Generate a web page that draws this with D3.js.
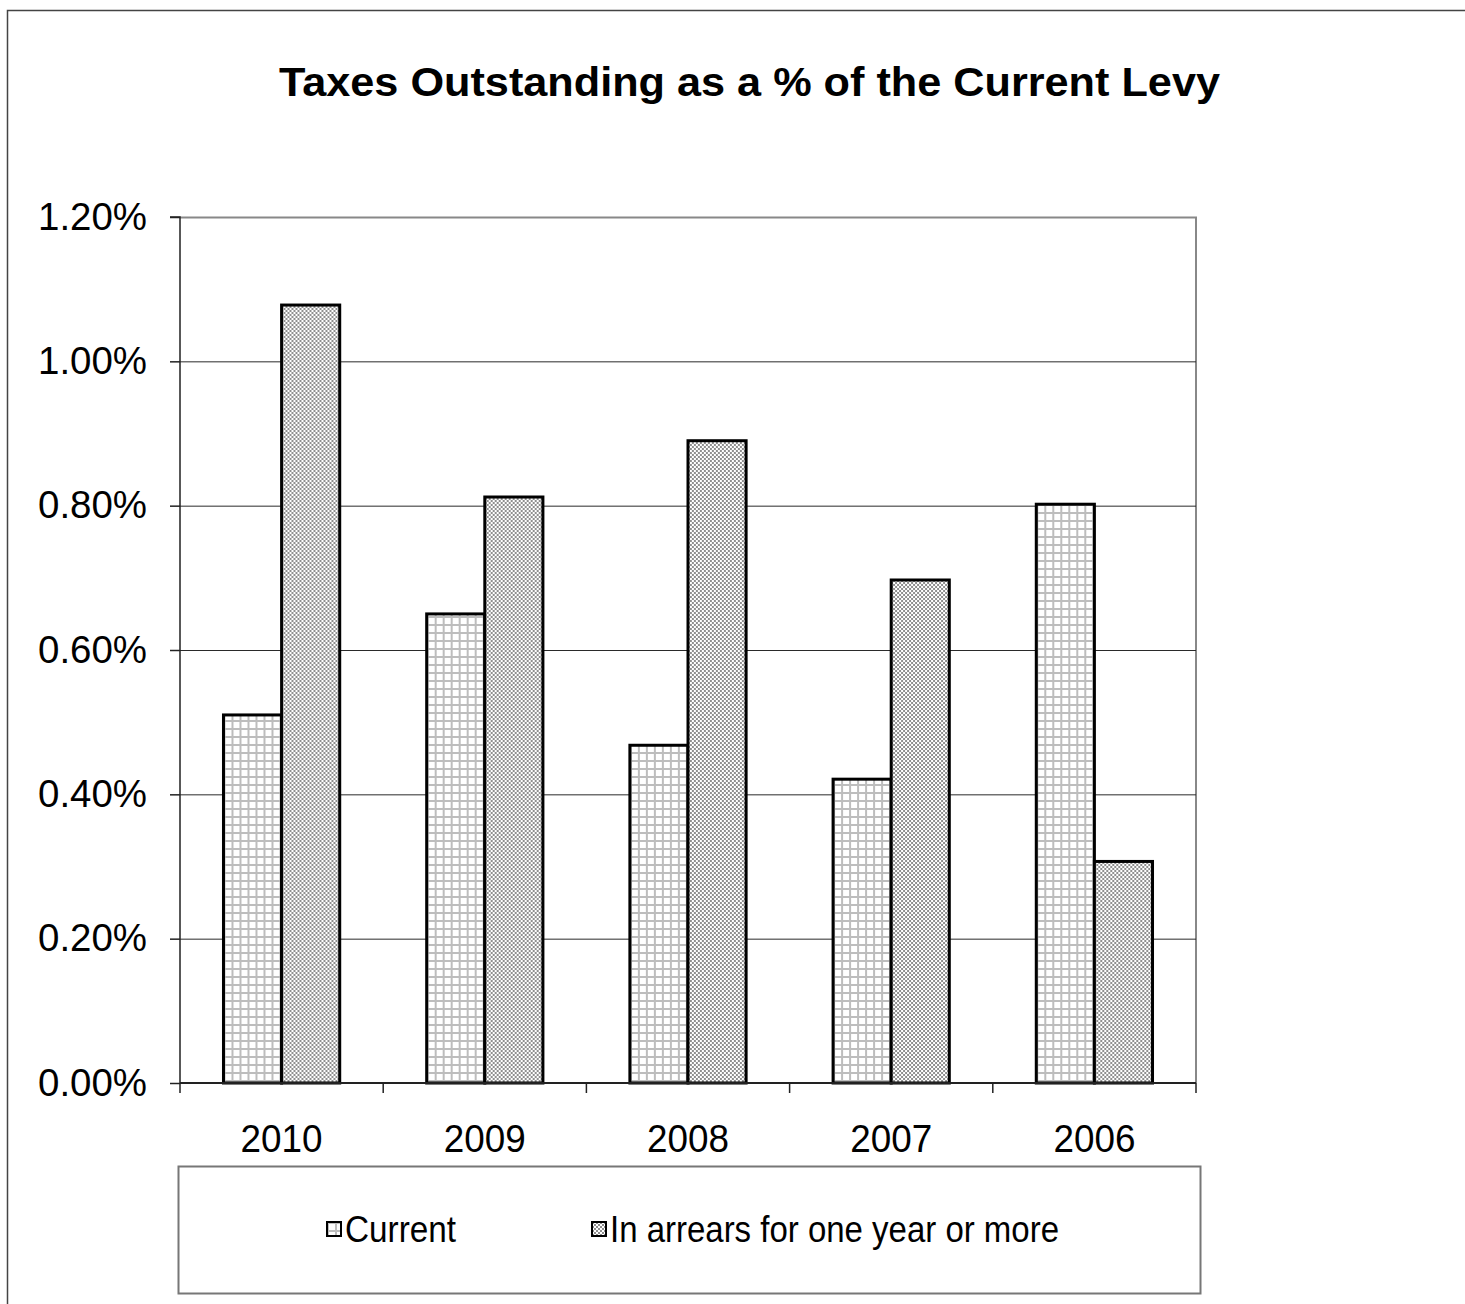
<!DOCTYPE html>
<html>
<head>
<meta charset="utf-8">
<script src="https://cdn.jsdelivr.net/npm/d3@7.9.0/dist/d3.min.js"></script>
<style>
  html, body { margin: 0; padding: 0; background: #fff; }
  svg { display: block; font-family: 'Liberation Sans', Arial, sans-serif; }
</style>
</head>
<body>
<div id="chart"></div>
<script>
const years = ['2010', '2009', '2008', '2007', '2006'];
const seriesNames = ['Current', 'In arrears for one year or more'];
const currentValues = [0.0051, 0.0065, 0.00468, 0.00421, 0.00802];
const arrearsValues = [0.01078, 0.00812, 0.0089, 0.00697, 0.00307];
const yTicks = [0, 0.002, 0.004, 0.006, 0.008, 0.010, 0.012];

const width = 1465;
const height = 1304;
const margin = { top: 217, right: 269, bottom: 221, left: 180 };

const svg = d3.select('#chart')
  .append('svg')
  .attr('width', width)
  .attr('height', height);

// fill patterns
const defs = svg.append('defs');
const grid = defs.append('pattern')
  .attr('id', 'pat-current')
  .attr('patternUnits', 'userSpaceOnUse')
  .attr('width', 8).attr('height', 8);
grid.append('rect').attr('width', 8).attr('height', 8).attr('fill', '#fff');
grid.append('rect').attr('width', 2).attr('height', 8).attr('fill', '#bdbdbd');
grid.append('rect').attr('width', 8).attr('height', 2).attr('fill', '#bdbdbd');

const checker = defs.append('pattern')
  .attr('id', 'pat-arrears')
  .attr('patternUnits', 'userSpaceOnUse')
  .attr('width', 4).attr('height', 4);
checker.append('rect').attr('width', 4).attr('height', 4).attr('fill', '#fff');
checker.append('rect').attr('width', 2).attr('height', 2).attr('fill', '#8f8f8f');
checker.append('rect').attr('x', 2).attr('y', 2).attr('width', 2).attr('height', 2).attr('fill', '#8f8f8f');

const fills = ['url(#pat-current)', 'url(#pat-arrears)'];

// outer chart border
svg.append('rect')
  .attr('x', 7.5).attr('y', 10.5)
  .attr('width', width).attr('height', height)
  .attr('fill', 'none')
  .attr('stroke', '#444')
  .attr('stroke-width', 1.5);

svg.append('text')
  .attr('x', 749.5)
  .attr('y', 96)
  .attr('text-anchor', 'middle')
  .attr('font-size', 41)
  .attr('font-weight', 700)
  .attr('textLength', 941)
  .attr('lengthAdjust', 'spacingAndGlyphs')
  .text('Taxes Outstanding as a % of the Current Levy');

const x0 = d3.scaleBand()
  .domain(years)
  .range([margin.left, width - margin.right])
  .paddingInner(0.428)
  .paddingOuter(0.214);

const x1 = d3.scaleBand()
  .domain(seriesNames)
  .range([0, x0.bandwidth()]);

const y = d3.scaleLinear()
  .domain([0, 0.012])
  .range([height - margin.bottom, margin.top]);

const plotRight = width - margin.right;
const plotBottom = height - margin.bottom;

// plot area frame (top/right)
svg.append('path')
  .attr('d', `M${margin.left},${margin.top + 0.5}H${plotRight}V${plotBottom}`)
  .attr('fill', 'none')
  .attr('stroke', '#888')
  .attr('stroke-width', 2);

// gridlines
svg.append('g')
  .attr('transform', `translate(${margin.left},0)`)
  .call(d3.axisLeft(y).tickValues(yTicks.slice(1, -1)).tickFormat('').tickSize(-(plotRight - margin.left)))
  .call(g => g.select('.domain').remove())
  .selectAll('line')
  .attr('stroke', '#2a2a2a')
  .attr('stroke-width', 1);

// bars
const tableRows = years.map((yr, i) => ({ year: yr, values: [currentValues[i], arrearsValues[i]] }));
svg.append('g')
  .selectAll('g')
  .data(tableRows)
  .join('g')
  .attr('transform', d => `translate(${x0(d.year)},0)`)
  .selectAll('rect')
  .data(d => d.values.map((v, j) => ({ key: seriesNames[j], value: v, j })))
  .join('rect')
  .attr('x', d => x1(d.key))
  .attr('y', d => y(d.value))
  .attr('width', x1.bandwidth())
  .attr('height', d => y(0) - y(d.value))
  .attr('fill', d => fills[d.j])
  .attr('stroke', '#000')
  .attr('stroke-width', 3);

// y axis
const yAxis = svg.append('g')
  .attr('transform', `translate(${margin.left},0)`)
  .call(d3.axisLeft(y).tickValues(yTicks).tickFormat(d3.format('.2%')).tickSize(10).tickPadding(23));
yAxis.select('.domain').attr('stroke', '#222').attr('stroke-width', 1.5).attr('d', `M-10,${margin.top}H0V${plotBottom}`);
yAxis.selectAll('line').attr('stroke', '#222').attr('stroke-width', 1.5);
yAxis.selectAll('text')
  .attr('font-size', 38)
  .attr('font-family', "'Liberation Sans', Arial, sans-serif")
  .attr('fill', '#000')
  .attr('textLength', 109)
  .attr('lengthAdjust', 'spacingAndGlyphs');

// x axis: ticks at category boundaries
const xEdges = d3.range(years.length + 1).map(i => margin.left + i * (plotRight - margin.left) / years.length);
const xAxisG = svg.append('g');
xAxisG.append('line')
  .attr('x1', margin.left).attr('x2', plotRight)
  .attr('y1', plotBottom).attr('y2', plotBottom)
  .attr('stroke', '#222').attr('stroke-width', 2);
xAxisG.selectAll('line.tick')
  .data(xEdges)
  .join('line')
  .attr('class', 'tick')
  .attr('x1', d => d).attr('x2', d => d)
  .attr('y1', plotBottom).attr('y2', plotBottom + 10)
  .attr('stroke', '#222').attr('stroke-width', 1.5);
xAxisG.selectAll('text')
  .data(years)
  .join('text')
  .attr('x', d => x0(d) + x0.bandwidth() / 2)
  .attr('y', plotBottom + 69)
  .attr('text-anchor', 'middle')
  .attr('font-size', 38)
  .attr('textLength', 82)
  .attr('lengthAdjust', 'spacingAndGlyphs')
  .text(d => d);

// legend
const legend = svg.append('g');
legend.append('rect')
  .attr('x', 178.5).attr('y', 1166.5)
  .attr('width', 1022).attr('height', 127)
  .attr('fill', '#fff')
  .attr('stroke', '#777')
  .attr('stroke-width', 2);
const legendX = [327, 592];
const legendTextW = [111, 449];
const items = legend.selectAll('g.item')
  .data(seriesNames)
  .join('g')
  .attr('class', 'item')
  .attr('transform', (d, i) => `translate(${legendX[i]},1222)`);
items.append('rect')
  .attr('width', 14).attr('height', 14)
  .attr('fill', (d, i) => fills[i])
  .attr('stroke', '#000')
  .attr('stroke-width', 2);
items.append('text')
  .attr('x', 18)
  .attr('y', 20)
  .attr('font-size', 36)
  .attr('textLength', (d, i) => legendTextW[i])
  .attr('lengthAdjust', 'spacingAndGlyphs')
  .text(d => d);
</script>
</body>
</html>
